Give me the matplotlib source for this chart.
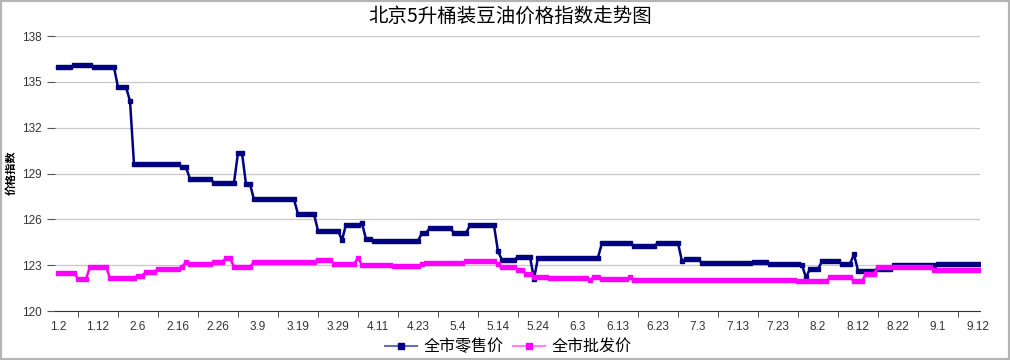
import numpy as np
import matplotlib
matplotlib.use('Agg')
import matplotlib.pyplot as plt
from matplotlib.lines import Line2D
from matplotlib.patches import Rectangle

plt.rcParams['font.family'] = ['Liberation Sans', 'Noto Sans CJK SC', 'DejaVu Sans']

dates = ['1.2', '1.12', '2.6', '2.16', '2.26', '3.9', '3.19', '3.29', '4.11', '4.23',
         '5.4', '5.14', '5.24', '6.3', '6.13', '6.23', '7.3', '7.13', '7.23', '8.2',
         '8.12', '8.22', '9.1', '9.12']

# 全市零售价
retail = [
    135.95, 135.95, 135.95, 135.95, 136.1, 136.1, 136.1, 136.1, 136.1, 135.95,
    135.95, 135.95, 135.95, 135.95, 135.95, 134.65, 134.65, 134.65, 133.75, 129.6,
    129.6, 129.6, 129.6, 129.6, 129.6, 129.6, 129.6, 129.6, 129.6, 129.6,
    129.6, 129.4, 129.4, 128.65, 128.65, 128.65, 128.65, 128.65, 128.65, 128.4,
    128.4, 128.4, 128.4, 128.4, 128.4, 130.35, 130.35, 128.3, 128.3, 127.3,
    127.3, 127.3, 127.3, 127.3, 127.3, 127.3, 127.3, 127.3, 127.3, 127.3,
    126.35, 126.35, 126.35, 126.35, 126.35, 125.25, 125.25, 125.25, 125.25, 125.25,
    125.25, 124.65, 125.65, 125.65, 125.65, 125.65, 125.75, 124.7, 124.7, 124.6,
    124.6, 124.6, 124.6, 124.6, 124.6, 124.6, 124.6, 124.6, 124.6, 124.6,
    124.6, 125.1, 125.1, 125.45, 125.45, 125.45, 125.45, 125.45, 125.45, 125.1,
    125.1, 125.1, 125.1, 125.6, 125.6, 125.6, 125.6, 125.6, 125.6, 125.6,
    123.9, 123.35, 123.35, 123.35, 123.35, 123.55, 123.55, 123.55, 123.55, 122.1,
    123.5, 123.5, 123.5, 123.5, 123.5, 123.5, 123.5, 123.5, 123.5, 123.5,
    123.5, 123.5, 123.5, 123.5, 123.5, 123.5, 124.45, 124.45, 124.45, 124.45,
    124.45, 124.45, 124.45, 124.45, 124.25, 124.25, 124.25, 124.25, 124.25, 124.25,
    124.45, 124.45, 124.45, 124.45, 124.45, 124.45, 123.25, 123.4, 123.4, 123.4,
    123.4, 123.15, 123.15, 123.15, 123.15, 123.15, 123.15, 123.15, 123.15, 123.15,
    123.15, 123.15, 123.15, 123.15, 123.2, 123.2, 123.2, 123.2, 123.1, 123.1,
    123.1, 123.1, 123.1, 123.1, 123.1, 123.1, 123.0, 122.2, 122.75, 122.75,
    122.75, 123.25, 123.25, 123.25, 123.25, 123.25, 123.1, 123.1, 123.1, 123.7,
    122.65, 122.65, 122.65, 122.65, 122.65, 122.75, 122.75, 122.75, 122.75, 123.0,
    123.0, 123.0, 123.0, 123.0, 123.0, 123.0, 123.0, 123.0, 123.0, 123.0,
    123.1, 123.1, 123.1, 123.1, 123.1, 123.1, 123.05, 123.05, 123.05, 123.05,
    123.05]

# 全市批发价
wholesale = [
    122.5, 122.5, 122.5, 122.5, 122.5, 122.1, 122.1, 122.1, 122.9, 122.9,
    122.9, 122.9, 122.9, 122.15, 122.15, 122.15, 122.15, 122.15, 122.15, 122.15,
    122.3, 122.3, 122.55, 122.55, 122.55, 122.75, 122.75, 122.75, 122.75, 122.75,
    122.75, 122.9, 123.2, 123.1, 123.1, 123.1, 123.1, 123.1, 123.1, 123.2,
    123.2, 123.2, 123.45, 123.45, 122.9, 122.9, 122.9, 122.9, 122.9, 123.2,
    123.2, 123.2, 123.2, 123.2, 123.2, 123.2, 123.2, 123.2, 123.2, 123.2,
    123.2, 123.2, 123.2, 123.2, 123.2, 123.35, 123.35, 123.35, 123.35, 123.05,
    123.05, 123.05, 123.05, 123.05, 123.05, 123.5, 123.0, 123.0, 123.0, 123.0,
    123.0, 123.0, 123.0, 123.0, 122.95, 122.95, 122.95, 122.95, 122.95, 122.95,
    122.95, 123.05, 123.15, 123.15, 123.15, 123.15, 123.15, 123.15, 123.15, 123.15,
    123.15, 123.15, 123.25, 123.25, 123.25, 123.25, 123.25, 123.25, 123.25, 123.25,
    123.05, 122.85, 122.85, 122.85, 122.85, 122.7, 122.7, 122.45, 122.45, 122.2,
    122.2, 122.2, 122.2, 122.15, 122.15, 122.15, 122.15, 122.15, 122.15, 122.15,
    122.15, 122.15, 122.15, 122.05, 122.2, 122.2, 122.1, 122.1, 122.1, 122.1,
    122.1, 122.1, 122.1, 122.2, 122.0, 122.0, 122.0, 122.0, 122.0, 122.0,
    122.0, 122.0, 122.0, 122.0, 122.0, 122.0, 122.0, 122.0, 122.0, 122.0,
    122.0, 122.0, 122.0, 122.0, 122.0, 122.0, 122.0, 122.0, 122.0, 122.0,
    122.0, 122.0, 122.0, 122.0, 122.0, 122.0, 122.0, 122.0, 122.0, 122.0,
    122.0, 122.0, 122.0, 122.0, 122.0, 121.95, 121.95, 121.95, 121.95, 121.95,
    121.95, 121.95, 121.95, 122.2, 122.2, 122.2, 122.2, 122.2, 122.2, 121.95,
    121.95, 121.95, 122.45, 122.45, 122.45, 122.85, 122.85, 122.85, 122.85, 122.85,
    122.85, 122.85, 122.85, 122.85, 122.85, 122.85, 122.85, 122.85, 122.85, 122.7,
    122.7, 122.7, 122.7, 122.7, 122.7, 122.7, 122.7, 122.7, 122.7, 122.7,
    122.7]

x = np.arange(len(retail))
step = 10

fig = plt.figure(figsize=(10.1, 3.6), dpi=100)
ax = fig.add_axes([55/1010, 1-311/360, (980-55)/1010, (311-36)/360])

ax.plot(x, retail, color='#000080', lw=1.8, marker='s', ms=2.2, label='全市零售价')
ax.plot(x, wholesale, color='#ff00ff', lw=1.8, marker='s', ms=2.2, label='全市批发价')

ax.set_xlim(-0.75, len(retail) - 0.5)
ax.set_ylim(120, 138)
ax.set_yticks(np.arange(120, 139, 3))
ax.yaxis.grid(True, color='#c8c8c8', lw=0.9)
ax.set_axisbelow(True)

ax.set_xticks(np.arange(0, len(retail), step))
ax.set_xticklabels(dates)
ax.set_xticks(np.arange(step/2, len(retail), step), minor=True)
ax.tick_params(axis='x', which='major', length=0, pad=7, labelsize=8.5, colors='#333333')
ax.tick_params(axis='x', which='minor', length=4, color='#333333')
ax.tick_params(axis='y', length=6, color='#555555', labelsize=8.5, labelcolor='#333333')

for s in ['top', 'right', 'left']:
    ax.spines[s].set_visible(False)
ax.spines['bottom'].set_color('#333333')

fig.text(11/1010, 1-173/360, '价格指数', rotation=90, ha='center', va='center',
         fontsize=8, fontweight='bold', family=['Noto Sans CJK SC'])
fig.text(0.505, 0.955, '北京5升桶装豆油价格指数走势图', ha='center', va='center',
         fontsize=14, family=['Noto Sans CJK SC'])

handles = [Line2D([], [], color='#6a6ab8', lw=1.5, marker='s', ms=4,
                  mfc='#000080', mec='#000080'),
           Line2D([], [], color='#ff80ff', lw=1.5, marker='s', ms=4,
                  mfc='#ff00ff', mec='#ff00ff')]
fig.legend(handles, ['全市零售价', '全市批发价'], loc='center', bbox_to_anchor=(0.503, 0.037),
           ncol=2, frameon=False, prop={'family': 'Noto Sans CJK SC', 'size': 11.5},
           handlelength=2.0, columnspacing=0.6, handletextpad=0.4)

fig.patches.append(Rectangle((0, 0), 1, 1, transform=fig.transFigure, fill=False,
                             edgecolor='#b4b4b4', lw=3))

fig.savefig('out.png', dpi=100)
